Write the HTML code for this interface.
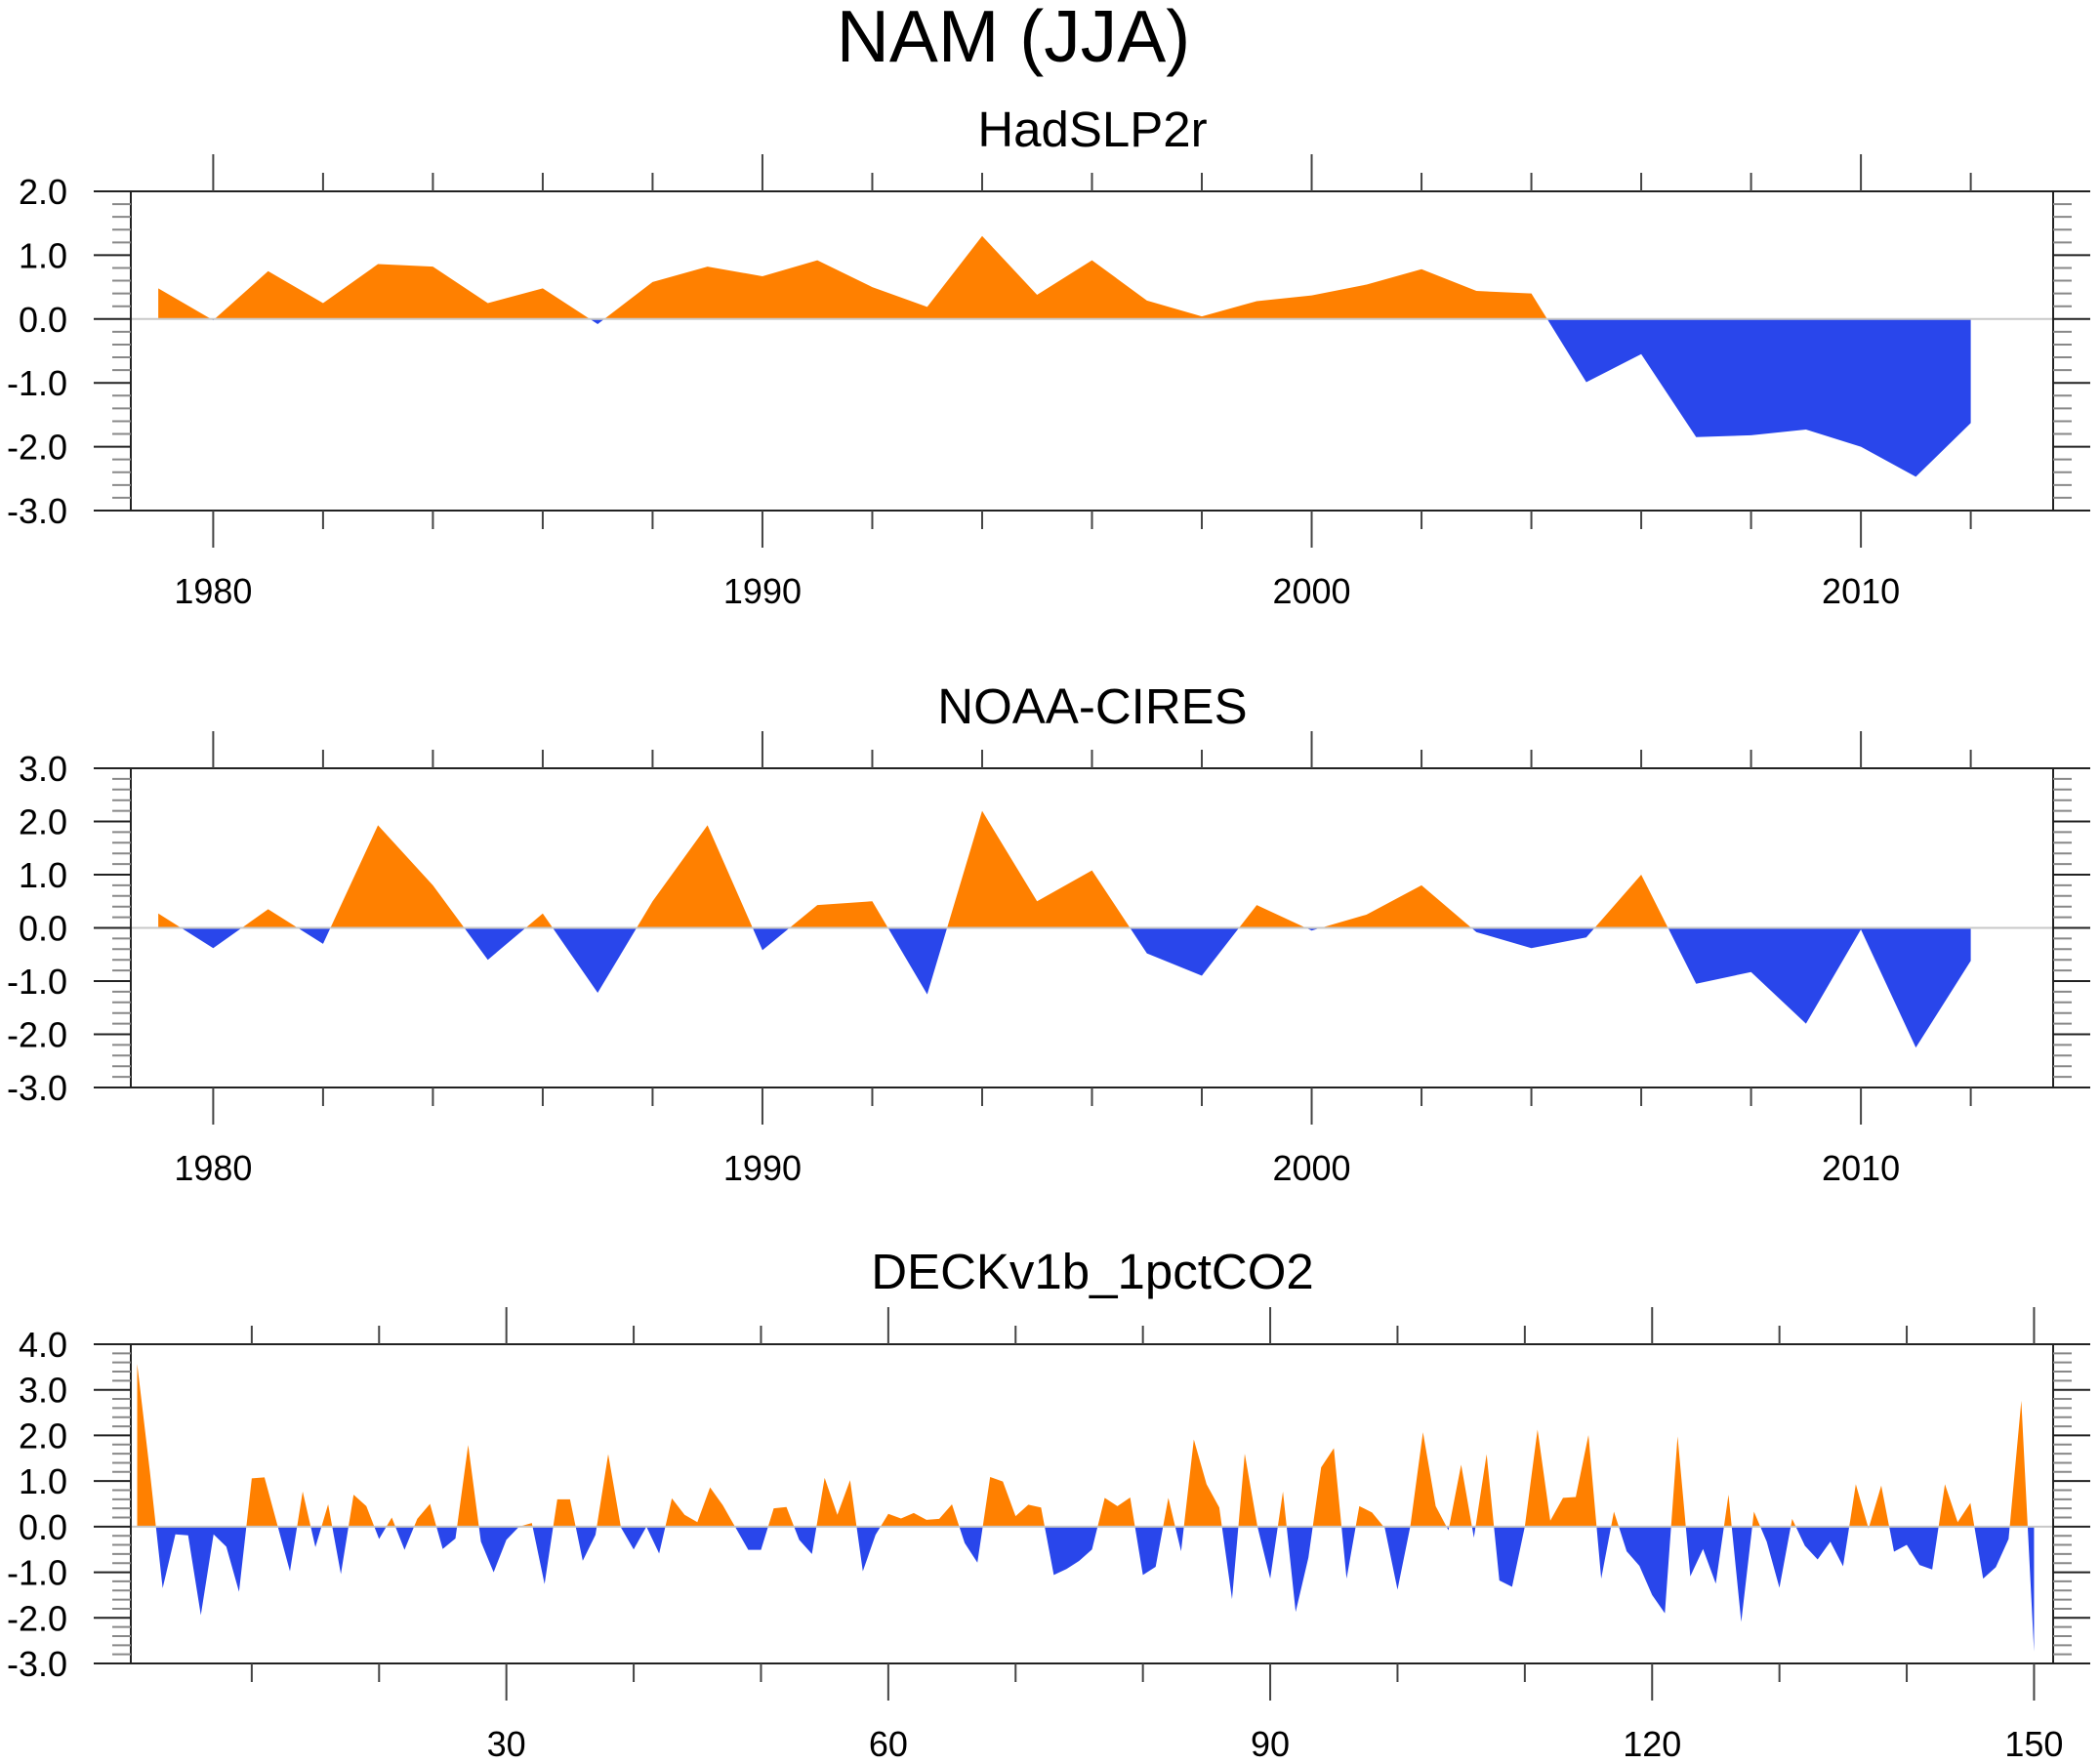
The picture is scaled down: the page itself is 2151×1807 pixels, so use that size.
<!DOCTYPE html>
<html><head><meta charset="utf-8"><style>
html,body{margin:0;padding:0;background:#fff}
svg{display:block}
text{font-family:"Liberation Sans",Arial,sans-serif;fill:#000}
</style></head><body>
<svg id="chart" width="2151" height="1807" viewBox="0 0 2151 1807" xmlns="http://www.w3.org/2000/svg">
<text x="1038" y="63" font-size="75" text-anchor="middle">NAM (JJA)</text>
</svg>
<script>
const years = [];
for (let y = 1979; y <= 2012; y++) years.push(y);
const hadValues = [0.48,-0.02,0.75,0.25,0.86,0.82,0.25,0.48,-0.08,0.58,0.82,0.67,0.92,0.5,0.19,1.3,0.38,0.92,0.29,0.04,0.28,0.37,0.54,0.78,0.44,0.4,-0.99,-0.55,-1.85,-1.82,-1.73,-2.0,-2.47,-1.63];
const noaaValues = [0.27,-0.38,0.35,-0.3,1.93,0.8,-0.6,0.27,-1.22,0.5,1.93,-0.42,0.43,0.5,-1.25,2.2,0.5,1.08,-0.48,-0.9,0.43,-0.05,0.25,0.8,-0.08,-0.38,-0.18,1.0,-1.05,-0.83,-1.8,-0.03,-2.25,-0.62];
const deckIndex = [];
for (let i = 1; i <= 150; i++) deckIndex.push(i);
const deckValues = [3.57,1.2,-1.35,-0.17,-0.19,-1.94,-0.17,-0.44,-1.43,1.06,1.08,0.05,-0.98,0.77,-0.45,0.49,-1.04,0.7,0.45,-0.27,
0.2,-0.51,0.17,0.5,-0.49,-0.26,1.79,-0.33,-1.0,-0.29,0.0,0.08,-1.26,0.6,0.6,-0.75,-0.18,1.59,-0.02,-0.5,
0.0,-0.59,0.62,0.26,0.1,0.86,0.47,-0.02,-0.51,-0.51,0.4,0.43,-0.29,-0.6,1.07,0.26,1.02,-0.98,-0.18,0.28,
0.18,0.3,0.15,0.17,0.49,-0.36,-0.79,1.09,0.99,0.23,0.48,0.42,-1.06,-0.93,-0.75,-0.5,0.63,0.45,0.64,-1.06,
-0.88,0.63,-0.54,1.91,0.93,0.42,-1.59,1.6,0.0,-1.14,0.77,-1.87,-0.68,1.3,1.72,-1.14,0.45,0.31,-0.03,-1.38,
0.0,2.07,0.45,-0.08,1.36,-0.24,1.59,-1.18,-1.32,0.0,2.13,0.13,0.63,0.65,2.01,-1.14,0.33,-0.54,-0.86,-1.5,
-1.9,1.98,-1.09,-0.49,-1.25,0.7,-2.09,0.33,-0.33,-1.34,0.17,-0.42,-0.72,-0.33,-0.87,0.93,-0.04,0.9,-0.55,-0.4,
-0.84,-0.94,0.93,0.1,0.52,-1.14,-0.89,-0.27,2.76,-2.74];
const yTicks1 = [2,1,0,-1,-2,-3];
const yTicks2 = [3,2,1,0,-1,-2,-3];
const yTicks3 = [4,3,2,1,0,-1,-2,-3];
const xTickLabelsYears = [1980,1990,2000,2010];
const xTickLabelsDeck = [30,60,90,120,150];

const NS = "http://www.w3.org/2000/svg";
const svg = document.getElementById('chart');
const ORANGE = "#ff8000", BLUE = "#2946eb";
function el(tag, attrs, parent) {
  const e = document.createElementNS(NS, tag);
  for (const k in attrs) e.setAttribute(k, attrs[k]);
  (parent || svg).appendChild(e);
  return e;
}

function panel(cfg) {
  const L = 134, R = 2103, T = cfg.top, B = cfg.top + 327;
  const g = el('g', {});
  
  
  const sx = v => L + (v - cfg.xmin) / (cfg.xmax - cfg.xmin) * (R - L);
  const sy = v => B - (v - cfg.ymin) / (cfg.ymax - cfg.ymin) * (B - T);
  const st = el('text', {x: 1119, y: T - cfg.titleOff, 'font-size': 51, 'text-anchor': 'middle'}, g);
  st.textContent = cfg.title;
  
  
  const xs = cfg.xv, vs = cfg.vals;
  const pts = [];
  for (let i = 0; i < vs.length; i++) {
    pts.push([xs[i], vs[i]]);
    if (i < vs.length - 1 && vs[i] * vs[i + 1] < 0) {
      const f = vs[i] / (vs[i] - vs[i + 1]);
      pts.push([xs[i] + f * (xs[i + 1] - xs[i]), 0]);
    }
  }
  function poly(pos) {
    let d = 'M' + sx(pts[0][0]) + ',' + sy(0);
    for (const p of pts) {
      const v = pos ? Math.max(p[1], 0) : Math.min(p[1], 0);
      d += 'L' + sx(p[0]).toFixed(2) + ',' + sy(v).toFixed(2);
    }
    d += 'L' + sx(pts[pts.length - 1][0]) + ',' + sy(0) + 'Z';
    return d;
  }
  const pp = el('path', {d: poly(true), fill: ORANGE}, g);
  
  
  const np = el('path', {d: poly(false), fill: BLUE}, g);
  
  
  const zl = el('line', {x1: L, x2: R, y1: sy(0), y2: sy(0), stroke: '#c8c8c8', 'stroke-width': 2}, g);
  
  
  const fr = el('rect', {x: L, y: T, width: R - L, height: B - T, fill: 'none', stroke: '#222', 'stroke-width': 2}, g);
  
  
  for (let v = cfg.ymin; v <= cfg.ymax + 1e-9; v += 0.2) {
    const yy = sy(v);
    const major = Math.abs(v - Math.round(v)) < 1e-6;
    const len = major ? 38 : 19;
    el('line', {x1: L - len, x2: L, y1: yy, y2: yy, stroke: major ? '#222' : '#888', 'stroke-width': 2}, g);
    el('line', {x1: R, x2: R + len, y1: yy, y2: yy, stroke: major ? '#222' : '#888', 'stroke-width': 2}, g);
  }
  for (const v of cfg.yTicks) {
    const t = el('text', {x: 69, y: sy(v) + 13, 'font-size': 36, 'text-anchor': 'end'}, g);
    t.textContent = v.toFixed(1);
    
    
  }
  for (let v = cfg.minorStart; v <= cfg.xmax; v += cfg.minorStep) {
    const xx = sx(v);
    const major = cfg.majors.indexOf(v) >= 0;
    const len = major ? 38 : 19;
    el('line', {x1: xx, x2: xx, y1: T - len, y2: T, stroke: '#444', 'stroke-width': 2}, g);
    el('line', {x1: xx, x2: xx, y1: B, y2: B + len, stroke: '#444', 'stroke-width': 2}, g);
  }
  for (const v of cfg.majors) {
    const t = el('text', {x: sx(v), y: B + 95, 'font-size': 36, 'text-anchor': 'middle'}, g);
    t.textContent = String(v);
    
    
  }
}

panel({name: 'hadslp2r', title: 'HadSLP2r', top: 196, titleOff: 46, xmin: 1978.5, xmax: 2013.5, ymin: -3, ymax: 2,
  xv: years, vals: hadValues, yTicks: yTicks1, minorStart: 1980, minorStep: 2, majors: xTickLabelsYears});
panel({name: 'noaa-cires', title: 'NOAA-CIRES', top: 787, titleOff: 46, xmin: 1978.5, xmax: 2013.5, ymin: -3, ymax: 3,
  xv: years, vals: noaaValues, yTicks: yTicks2, minorStart: 1980, minorStep: 2, majors: xTickLabelsYears});
panel({name: 'deck-1pctco2', title: 'DECKv1b_1pctCO2', top: 1377, titleOff: 57, xmin: 0.5, xmax: 151.5, ymin: -3, ymax: 4,
  xv: deckIndex, vals: deckValues, yTicks: yTicks3, minorStart: 10, minorStep: 10, majors: xTickLabelsDeck});
</script>
</body></html>
